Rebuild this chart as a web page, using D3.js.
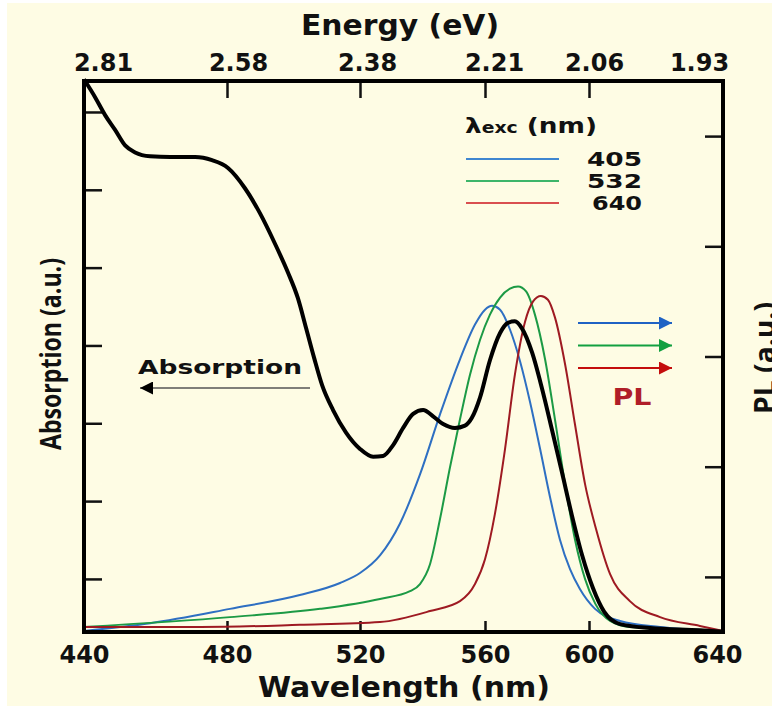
<!DOCTYPE html>
<html>
<head>
<meta charset="utf-8">
<script src="https://cdn.jsdelivr.net/npm/d3@7"></script>
<style>
  body { margin: 0; background: #fff; }
  text { font-family: "DejaVu Sans", Verdana, sans-serif; font-weight: bold; }
</style>
</head>
<body>
<div id="vis"></div>
<script>
const width = 772;
const height = 706;
const margin = { top: 81, right: 49, bottom: 74, left: 84 };

// wavelength ticks and their (uneven) spacing in the original figure
const wlTicks = [440, 480, 520, 560, 600, 640];
const wlTickPos = [0, 143, 276, 401, 505, 639];
const absTicks = [0.1, 0.2, 0.3, 0.4, 0.5, 0.6, 0.7];
const plTicks = [0.1, 0.3, 0.5, 0.7, 0.9];

// absorption (black)
const absWl = [440, 443.1, 445.9, 448.7, 451.5, 454.3, 458.5, 464.1, 471.1, 475.8, 480.3, 485.4, 489.9, 494.4, 498.3, 501.3, 503.8, 506.2, 508.6, 511.9, 515.8, 520, 524.2, 527.4, 530.6, 533.8, 537, 540.2, 543.4, 546.6, 550.4, 553.6, 555.8, 558.4, 561.9, 565.8, 568.8, 571.5, 574.2, 578.1, 581.9, 585.8, 589.6, 593.4, 597.3, 601.2, 604.5, 609.3, 618.2, 633.1, 640];
const absVal = [0.742, 0.719, 0.696, 0.677, 0.657, 0.648, 0.643, 0.642, 0.642, 0.638, 0.628, 0.602, 0.570, 0.531, 0.494, 0.461, 0.422, 0.384, 0.349, 0.317, 0.288, 0.267, 0.257, 0.258, 0.272, 0.294, 0.312, 0.317, 0.309, 0.299, 0.294, 0.297, 0.307, 0.333, 0.381, 0.416, 0.429, 0.431, 0.422, 0.391, 0.345, 0.291, 0.237, 0.182, 0.131, 0.088, 0.058, 0.042, 0.037, 0.034, 0.032];

// PL, excitation 405 nm
const pl405Wl = [440, 458.5, 480.9, 501.9, 514.0, 520, 526.4, 532.8, 539.2, 545.6, 552, 556.8, 560, 562.7, 565.8, 569.6, 573.5, 577.3, 581.2, 585, 588.8, 592.7, 596.5, 601.8, 609.3, 621.2, 640];
const pl405Val = [0.002, 0.016, 0.042, 0.067, 0.089, 0.107, 0.139, 0.197, 0.286, 0.395, 0.495, 0.558, 0.585, 0.592, 0.585, 0.549, 0.491, 0.418, 0.332, 0.245, 0.168, 0.114, 0.078, 0.042, 0.020, 0.009, 0.002];

// PL, excitation 532 nm
const pl532Wl = [440, 480.9, 508.0, 526.4, 536.0, 539.2, 542.4, 545.6, 548.8, 552.0, 555.2, 558.4, 561.9, 565.8, 569.6, 572.7, 575.8, 579.2, 583.1, 586.9, 590.8, 594.6, 598.5, 601.9, 606.3, 612.2, 640];
const pl532Val = [0.009, 0.027, 0.042, 0.060, 0.074, 0.087, 0.123, 0.205, 0.299, 0.386, 0.467, 0.530, 0.576, 0.607, 0.623, 0.627, 0.618, 0.576, 0.495, 0.386, 0.268, 0.168, 0.096, 0.051, 0.020, 0.009, 0.002];

// PL, excitation 640 nm
const pl640Wl = [440, 472.5, 501.9, 526.4, 542.4, 552, 556.8, 560, 563.8, 567.7, 571.5, 575.4, 578.5, 581.5, 584.2, 586.9, 590.8, 594.6, 598.5, 602.1, 606.3, 612.2, 621.2, 633.1, 640];
const pl640Val = [0.009, 0.009, 0.013, 0.018, 0.038, 0.056, 0.087, 0.132, 0.214, 0.332, 0.467, 0.563, 0.600, 0.610, 0.603, 0.571, 0.486, 0.377, 0.268, 0.187, 0.105, 0.056, 0.027, 0.011, 0.002];

const legendLabels = ["405", "532", "640"];
const curveColors = ["#2e6fc2", "#1c9a45", "#9e1a22"];
const legendColors = ["#3f86d0", "#3db56a", "#d94f4f"];
const arrowColors = ["#1f62c4", "#12a040", "#c40d0d"];

const plotW = width - margin.left - margin.right;
const plotH = height - margin.top - margin.bottom;

const x = d3.scaleLinear().domain(wlTicks).range(wlTickPos);
const yAbs = d3.scaleLinear().domain([0.0318, 0.7398]).range([plotH, 0]);
const yPl = d3.scaleLinear().domain([0, 1]).range([plotH, 0]);

const energyFmt = d => (Math.floor(1240 / d * 100) / 100).toFixed(2);

const svg = d3.select("#vis").append("svg")
  .attr("width", width)
  .attr("height", height);

svg.append("rect")
  .attr("x", 7).attr("y", 3)
  .attr("width", width - 7).attr("height", height - 3)
  .attr("fill", "#fefce4");

const g = svg.append("g")
  .attr("transform", "translate(" + margin.left + "," + margin.top + ")");

// axes
const bottomAxis = g.append("g")
  .attr("transform", "translate(0," + plotH + ")")
  .call(d3.axisBottom(x).tickValues(wlTicks).tickSizeInner(-11).tickSizeOuter(0).tickPadding(14));

const topAxis = g.append("g")
  .call(d3.axisTop(x).tickValues(wlTicks).tickFormat(energyFmt).tickSizeInner(-17).tickSizeOuter(0).tickPadding(10));

g.append("g")
  .call(d3.axisLeft(yAbs).tickValues(absTicks).tickFormat("").tickSizeInner(-18).tickSizeOuter(0));

g.append("g")
  .attr("transform", "translate(" + plotW + ",0)")
  .call(d3.axisRight(yPl).tickValues(plTicks).tickFormat("").tickSizeInner(-18).tickSizeOuter(0));

g.selectAll(".domain").remove();
g.selectAll(".tick line").attr("stroke", "#111").attr("stroke-width", 2.5);
g.selectAll(".tick text").attr("fill", "#111")
  .style("font-size", "24px")
  .style("font-family", "'DejaVu Sans', Verdana, sans-serif")
  .style("font-weight", "bold");

// nudge energy labels like the original
const topDx = [19, 11, 7, 9, 5, -24];
topAxis.selectAll(".tick text").attr("dx", (d, i) => topDx[i]);
bottomAxis.selectAll(".tick text").attr("dx", (d, i) => i === wlTicks.length - 1 ? -6 : 0);

// curves
const line = (xs, ys, yScale) => d3.line()
  .x(i => x(xs[i]))
  .y(i => yScale(ys[i]))
  .curve(d3.curveMonotoneX)(d3.range(xs.length));

const plSeries = [[pl405Wl, pl405Val], [pl532Wl, pl532Val], [pl640Wl, pl640Val]];
plSeries.forEach((s, k) => {
  g.append("path")
    .attr("d", line(s[0], s[1], yPl))
    .attr("fill", "none")
    .attr("stroke", curveColors[k])
    .attr("stroke-width", 2);
});

g.append("path")
  .attr("d", line(absWl, absVal, yAbs))
  .attr("fill", "none")
  .attr("stroke", "#000")
  .attr("stroke-width", 4)
  .attr("stroke-linejoin", "round");

// frame
g.append("rect")
  .attr("width", plotW).attr("height", plotH)
  .attr("fill", "none")
  .attr("stroke", "#000")
  .attr("stroke-width", 4);

// axis titles
svg.append("text")
  .attr("x", 400).attr("y", 35)
  .attr("text-anchor", "middle")
  .attr("textLength", 198)
  .attr("lengthAdjust", "spacingAndGlyphs")
  .style("font-size", "28px")
  .attr("fill", "#111")
  .text("Energy (eV)");

svg.append("text")
  .attr("x", 404).attr("y", 697)
  .attr("text-anchor", "middle")
  .attr("textLength", 292)
  .attr("lengthAdjust", "spacingAndGlyphs")
  .style("font-size", "28px")
  .attr("fill", "#111")
  .text("Wavelength (nm)");

svg.append("text")
  .attr("transform", "translate(61,354) rotate(-90)")
  .attr("text-anchor", "middle")
  .attr("textLength", 192)
  .attr("lengthAdjust", "spacingAndGlyphs")
  .style("font-family", "'Open Sans', sans-serif")
  .style("font-size", "28px")
  .attr("fill", "#111")
  .text("Absorption (a.u.)");

svg.append("text")
  .attr("transform", "translate(775,358) rotate(-90)")
  .attr("text-anchor", "middle")
  .attr("textLength", 112)
  .attr("lengthAdjust", "spacingAndGlyphs")
  .style("font-family", "'Open Sans', sans-serif")
  .style("font-size", "28px")
  .attr("fill", "#111")
  .text("PL (a.u.)");

// legend
const legend = svg.append("g").attr("transform", "translate(466,0)");
const lt = legend.append("text").attr("x", -1).attr("y", 133).attr("fill", "#111")
  .attr("textLength", 132)
  .attr("lengthAdjust", "spacingAndGlyphs");
lt.append("tspan").style("font-size", "21px").text("λ");
lt.append("tspan").style("font-size", "15px").text("exc");
lt.append("tspan").style("font-size", "21px").text(" (nm)");

legendLabels.forEach((lab, k) => {
  const yy = 159 + k * 22;
  legend.append("line")
    .attr("x1", 0).attr("x2", 93)
    .attr("y1", yy).attr("y2", yy)
    .attr("stroke", legendColors[k]).attr("stroke-width", 2);
  legend.append("text")
    .attr("x", 176).attr("y", yy + 7)
    .attr("text-anchor", "end")
    .attr("textLength", k === 2 ? 50 : 55)
    .attr("lengthAdjust", "spacingAndGlyphs")
    .style("font-size", "19px")
    .attr("fill", "#111")
    .text(lab);
});

// arrows
const defs = svg.append("defs");
const arrowHead = (id, color) => {
  defs.append("marker")
    .attr("id", id)
    .attr("viewBox", "0 0 10 10")
    .attr("refX", 10).attr("refY", 5)
    .attr("markerWidth", 20).attr("markerHeight", 13)
    .attr("markerUnits", "userSpaceOnUse")
    .attr("orient", "auto")
    .append("path").attr("d", "M0,0L10,5L0,10Z").attr("fill", color);
};
arrowColors.forEach((c, k) => arrowHead("ah" + k, c));
arrowHead("ahAbs", "#000");

arrowColors.forEach((c, k) => {
  const yy = 323 + k * 22.5;
  svg.append("line")
    .attr("x1", 578).attr("x2", 672)
    .attr("y1", yy).attr("y2", yy)
    .attr("stroke", c).attr("stroke-width", 2)
    .attr("marker-end", "url(#ah" + k + ")");
});

svg.append("text")
  .attr("x", 632).attr("y", 405)
  .attr("text-anchor", "middle")
  .attr("textLength", 39)
  .attr("lengthAdjust", "spacingAndGlyphs")
  .style("font-size", "23px")
  .attr("fill", "#b01e28")
  .text("PL");

svg.append("text")
  .attr("x", 220).attr("y", 374)
  .attr("text-anchor", "middle")
  .attr("textLength", 164)
  .attr("lengthAdjust", "spacingAndGlyphs")
  .style("font-size", "20px")
  .attr("fill", "#111")
  .text("Absorption");

svg.append("line")
  .attr("x1", 310).attr("x2", 140)
  .attr("y1", 388).attr("y2", 388)
  .attr("stroke", "#555").attr("stroke-width", 1.5)
  .attr("marker-end", "url(#ahAbs)");
</script>
</body>
</html>
